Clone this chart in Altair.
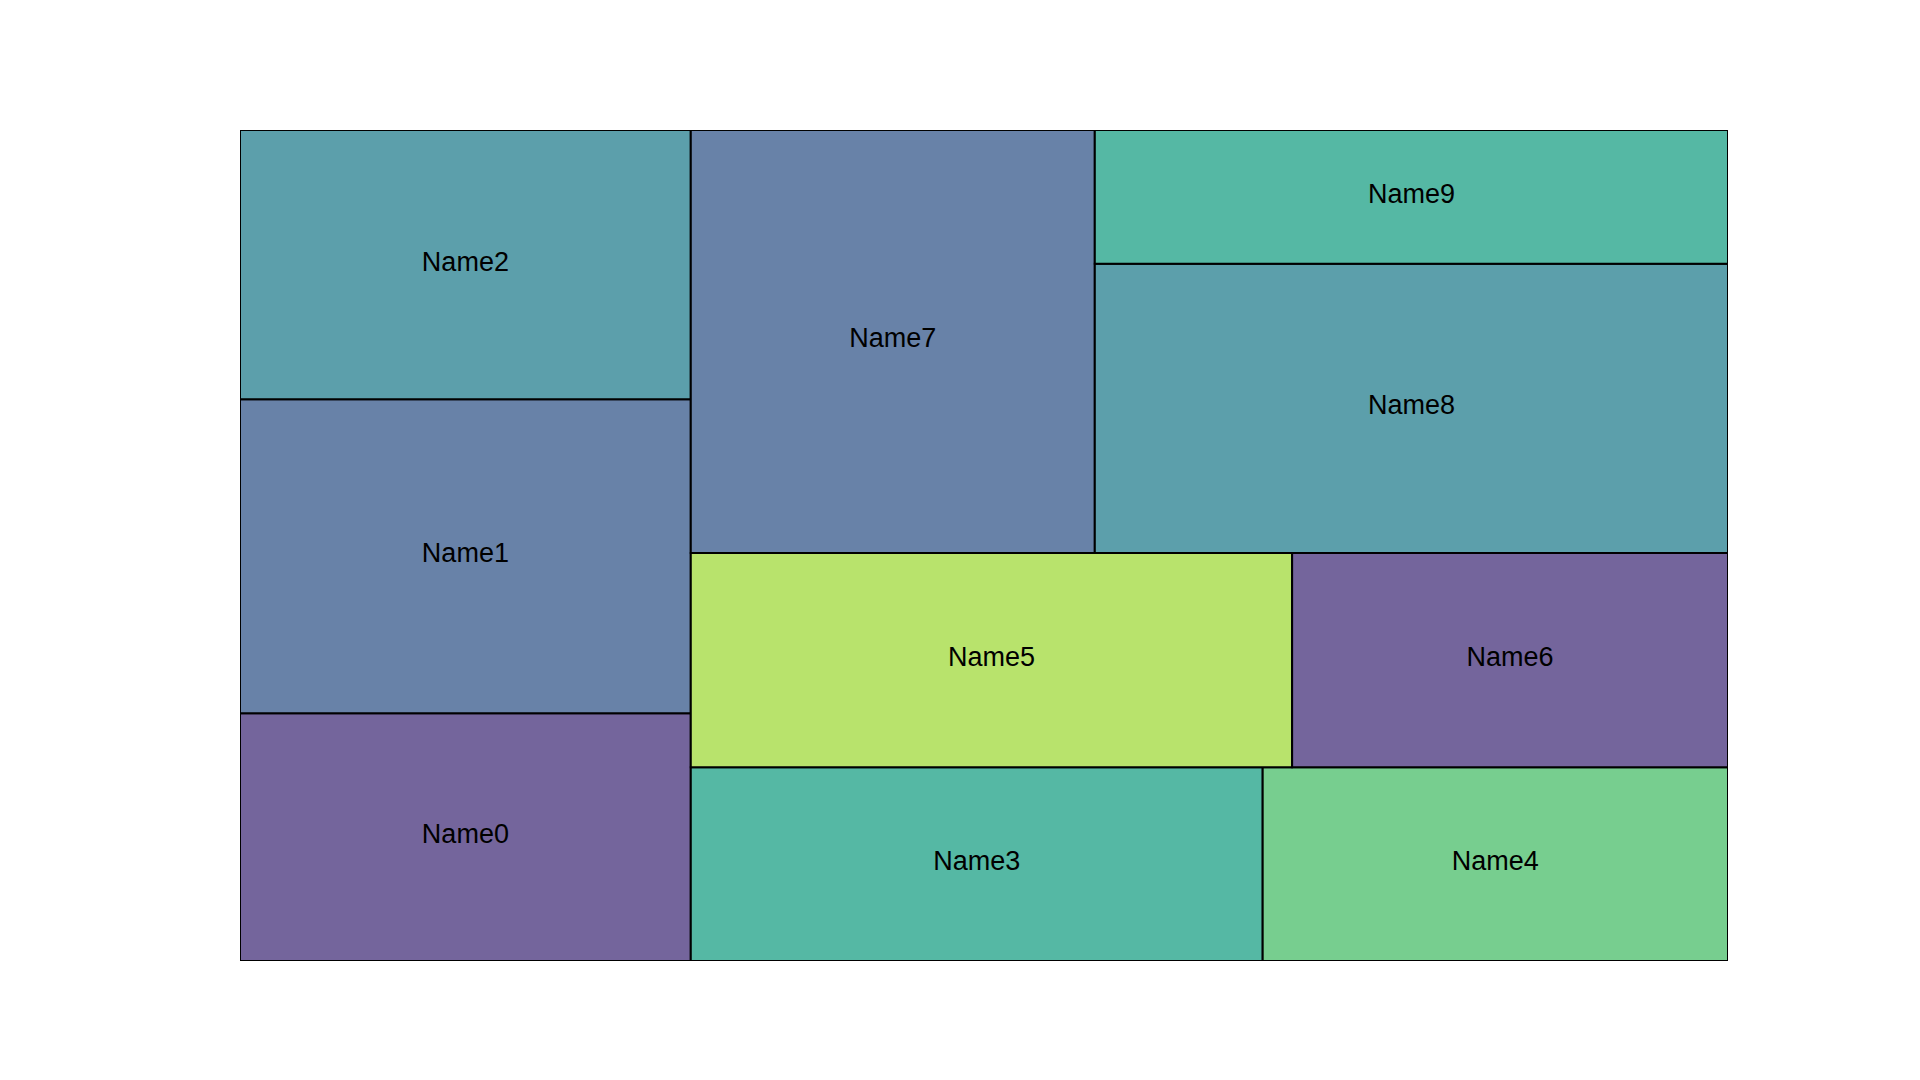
import altair as alt
import pandas as pd

names = ["Name0", "Name1", "Name2", "Name3", "Name4",
         "Name5", "Name6", "Name7", "Name8", "Name9"]
values = [9.03, 11.45, 9.82, 8.96, 7.29, 10.43, 7.56, 13.82, 14.81, 6.85]
colors = ["#74659C", "#6882A8", "#5C9FAB", "#55B8A4", "#77CE8F",
          "#B8E36C", "#74659C", "#6882A8", "#5C9FAB", "#55B8A4"]


# --- squarify layout (same algorithm as the squarify package) ---
def layoutrow(sizes, x, y, dx, dy):
    covered = sum(sizes)
    width = covered / dy
    rects = []
    for s in sizes:
        rects.append((x, y, width, s / width))
        y += s / width
    return rects


def layoutcol(sizes, x, y, dx, dy):
    covered = sum(sizes)
    height = covered / dx
    rects = []
    for s in sizes:
        rects.append((x, y, s / height, height))
        x += s / height
    return rects


def layout(sizes, x, y, dx, dy):
    return layoutrow(sizes, x, y, dx, dy) if dx >= dy else layoutcol(sizes, x, y, dx, dy)


def leftover(sizes, x, y, dx, dy):
    covered = sum(sizes)
    if dx >= dy:
        width = covered / dy
        return x + width, y, dx - width, dy
    height = covered / dx
    return x, y + height, dx, dy - height


def worst_ratio(sizes, x, y, dx, dy):
    return max(max(w / h, h / w) for (_, _, w, h) in layout(sizes, x, y, dx, dy))


def squarify(sizes, x, y, dx, dy):
    if len(sizes) == 0:
        return []
    if len(sizes) == 1:
        return layout(sizes, x, y, dx, dy)
    i = 1
    while i < len(sizes) and worst_ratio(sizes[:i], x, y, dx, dy) >= worst_ratio(sizes[:i + 1], x, y, dx, dy):
        i += 1
    current, remaining = sizes[:i], sizes[i:]
    lx, ly, ldx, ldy = leftover(current, x, y, dx, dy)
    return layout(current, x, y, dx, dy) + squarify(remaining, lx, ly, ldx, ldy)


W, H = 100.0, 100.0
total = sum(values)
norm = [v * W * H / total for v in values]
rects = squarify(norm, 0.0, 0.0, W, H)

rows = []
for n, v, c, (rx, ry, rw, rh) in zip(names, values, colors, rects):
    rows.append({"name": n, "value": v, "color": c,
                 "x": rx, "x2": rx + rw, "y": ry, "y2": ry + rh,
                 "cx": rx + rw / 2, "cy": ry + rh / 2})
df = pd.DataFrame(rows)

xs = alt.Scale(domain=[0, 100], nice=False, zero=False)
ys = alt.Scale(domain=[0, 100], nice=False, zero=False)

rect = alt.Chart(df).mark_rect(stroke="black", strokeWidth=2, clip=True).encode(
    x=alt.X("x:Q", scale=xs, axis=None),
    x2="x2:Q",
    y=alt.Y("y:Q", scale=ys, axis=None),
    y2="y2:Q",
    fill=alt.Fill("color:N", scale=None, legend=None),
)

text = alt.Chart(df).mark_text(font="Liberation Sans", fontSize=27, color="black",
                               align="center", baseline="middle", dy=-2).encode(
    x=alt.X("cx:Q", scale=xs, axis=None),
    y=alt.Y("cy:Q", scale=ys, axis=None),
    text="name:N",
)

chart = (rect + text).properties(
    width=1488, height=831,
    autosize=alt.AutoSizeParams(type="none"),
    padding={"left": 240, "top": 130, "right": 192, "bottom": 119},
    background="white",
).configure_view(stroke=None)

chart.save("out.html", embed_options={"renderer": "svg", "actions": False})
